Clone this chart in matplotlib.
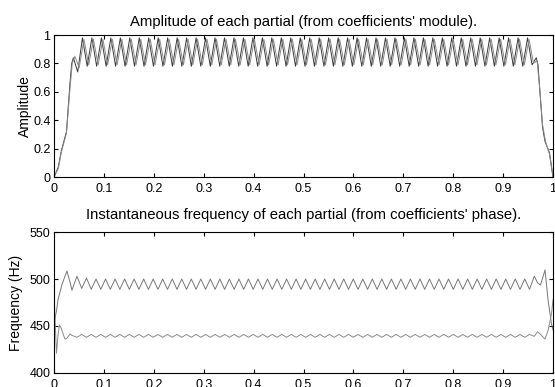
import numpy as np
import matplotlib
matplotlib.use("Agg")
import matplotlib.pyplot as plt

plt.rcParams['font.family'] = ['Liberation Sans', 'DejaVu Sans']

# ---- amplitude panel ----
# onset of both partials (time, value)
amp1_on_t = [0.0, 0.0086, 0.015, 0.022, 0.025, 0.032, 0.0355, 0.0388, 0.0475]
amp1_on = [0.0, 0.07, 0.19, 0.28, 0.32, 0.66, 0.80, 0.84, 0.74]
amp2_on_t = [0.0, 0.0086, 0.015, 0.022, 0.025, 0.032, 0.0365, 0.0418, 0.0505]
amp2_on = [0.0, 0.06, 0.18, 0.27, 0.31, 0.62, 0.80, 0.85, 0.77]

# steady part, one value per half period of the ripple (peak / trough)
amp1_mid_t = np.linspace(0.057, 0.949, 95)
amp2_mid_t = np.linspace(0.060, 0.952, 95)
amp1_mid = [0.98, 0.78, 0.98, 0.78, 0.98, 0.78, 0.98, 0.78, 0.98, 0.78,
            0.98, 0.78, 0.98, 0.78, 0.98, 0.78, 0.98, 0.78, 0.98, 0.78,
            0.98, 0.78, 0.98, 0.78, 0.98, 0.78, 0.98, 0.78, 0.98, 0.78,
            0.98, 0.78, 0.98, 0.78, 0.98, 0.78, 0.98, 0.78, 0.98, 0.78,
            0.98, 0.78, 0.98, 0.78, 0.98, 0.78, 0.98, 0.78, 0.98, 0.78,
            0.98, 0.78, 0.98, 0.78, 0.98, 0.78, 0.98, 0.78, 0.98, 0.78,
            0.98, 0.78, 0.98, 0.78, 0.98, 0.78, 0.98, 0.78, 0.98, 0.78,
            0.98, 0.78, 0.98, 0.78, 0.98, 0.78, 0.98, 0.78, 0.98, 0.78,
            0.98, 0.78, 0.98, 0.78, 0.98, 0.78, 0.98, 0.78, 0.98, 0.78,
            0.98, 0.78, 0.98, 0.78, 0.98]
amp2_mid = [0.97, 0.79, 0.97, 0.79, 0.97, 0.79, 0.97, 0.79, 0.97, 0.79,
            0.97, 0.79, 0.97, 0.79, 0.97, 0.79, 0.97, 0.79, 0.97, 0.79,
            0.97, 0.79, 0.97, 0.79, 0.97, 0.79, 0.97, 0.79, 0.97, 0.79,
            0.97, 0.79, 0.97, 0.79, 0.97, 0.79, 0.97, 0.79, 0.97, 0.79,
            0.97, 0.79, 0.97, 0.79, 0.97, 0.79, 0.97, 0.79, 0.97, 0.79,
            0.97, 0.79, 0.97, 0.79, 0.97, 0.79, 0.97, 0.79, 0.97, 0.79,
            0.97, 0.79, 0.97, 0.79, 0.97, 0.79, 0.97, 0.79, 0.97, 0.79,
            0.97, 0.79, 0.97, 0.79, 0.97, 0.79, 0.97, 0.79, 0.97, 0.79,
            0.97, 0.79, 0.97, 0.79, 0.97, 0.79, 0.97, 0.79, 0.97, 0.79,
            0.97, 0.79, 0.97, 0.79, 0.97]

# release
amp1_off_t = [0.958, 0.9665, 0.970, 0.973, 0.979, 0.984, 0.993, 1.0]
amp1_off = [0.79, 0.84, 0.79, 0.64, 0.35, 0.25, 0.17, 0.0]
amp2_off_t = [0.961, 0.968, 0.9735, 0.979, 0.985, 0.993, 1.0]
amp2_off = [0.80, 0.82, 0.62, 0.37, 0.25, 0.16, 0.0]

# ---- frequency panel ----
frq_on_t = [0.0, 0.005, 0.008, 0.011, 0.015, 0.016, 0.022, 0.026, 0.032, 0.036]
frq1_on = [453, 466, 478, 484, 492, 494, 503, 508.5, 497, 488]
frq2_on = [485, 421, 440, 451, 447, 445, 436, 437, 441.5, 440]

frq_mid_t = np.linspace(0.046, 0.9625, 97)
frq1_mid = [503, 490, 501, 489, 500, 489, 500, 489, 500, 489,
            500, 489, 500, 489, 500, 489, 500, 489, 500, 489,
            500, 489, 500, 489, 500, 489, 500, 489, 500, 489,
            500, 489, 500, 489, 500, 489, 500, 489, 500, 489,
            500, 489, 500, 489, 500, 489, 500, 489, 500, 489,
            500, 489, 500, 489, 500, 489, 500, 489, 500, 489,
            500, 489, 500, 489, 500, 489, 500, 489, 500, 489,
            500, 489, 500, 489, 500, 489, 500, 489, 500, 489,
            500, 489, 500, 489, 500, 489, 500, 489, 500, 489,
            500, 489, 500, 489, 500, 489, 503]
frq2_mid = [438, 441, 438, 441, 438, 441, 438, 441, 438, 441,
            438, 441, 438, 441, 438, 441, 438, 441, 438, 441,
            438, 441, 438, 441, 438, 441, 438, 441, 438, 441,
            438, 441, 438, 441, 438, 441, 438, 441, 438, 441,
            438, 441, 438, 441, 438, 441, 438, 441, 438, 441,
            438, 441, 438, 441, 438, 441, 438, 441, 438, 441,
            438, 441, 438, 441, 438, 441, 438, 441, 438, 441,
            438, 441, 438, 441, 438, 441, 438, 441, 438, 441,
            438, 441, 438, 441, 438, 441, 438, 441, 438, 441,
            438, 441, 438, 441, 438, 441, 439]

frq_off_t = [0.969, 0.975, 0.984, 0.990, 0.997, 1.0]
frq1_off = [496, 493.6, 509.6, 478, 452, 446]
frq2_off = [444, 441, 436, 445, 463, 478]

xticks = [0, 0.1, 0.2, 0.3, 0.4, 0.5, 0.6, 0.7, 0.8, 0.9, 1]
xticklabels = ['0', '0.1', '0.2', '0.3', '0.4', '0.5', '0.6', '0.7', '0.8', '0.9', '1']
amp_yticks = [0, 0.2, 0.4, 0.6, 0.8, 1]
amp_yticklabels = ['0', '0.2', '0.4', '0.6', '0.8', '1']
frq_yticks = [400, 450, 500, 550]


def join(*parts):
    return np.concatenate([np.asarray(p, float) for p in parts])


fig = plt.figure(figsize=(5.55, 3.87), dpi=100)
ax1 = fig.add_axes([0.0973, 0.5426, 0.8991, 0.3669])
ax2 = fig.add_axes([0.0973, 0.0362, 0.8991, 0.3643])

dark = '#3a3a3a'
light = '#8a8a8a'

ax1.plot(join(amp1_on_t, amp1_mid_t, amp1_off_t), join(amp1_on, amp1_mid, amp1_off),
         color=dark, lw=0.7)
ax1.plot(join(amp2_on_t, amp2_mid_t, amp2_off_t), join(amp2_on, amp2_mid, amp2_off),
         color=light, lw=0.7)

t_frq = join(frq_on_t, frq_mid_t, frq_off_t)
ax2.plot(t_frq, join(frq1_on, frq1_mid, frq1_off), color='#777777', lw=0.7)
ax2.plot(t_frq, join(frq2_on, frq2_mid, frq2_off), color='#8a8a8a', lw=0.7)

ax1.set_xlim(0, 1)
ax1.set_ylim(0, 1)
ax1.set_xticks(xticks)
ax1.set_xticklabels(xticklabels)
ax1.set_yticks(amp_yticks)
ax1.set_yticklabels(amp_yticklabels)
ax1.set_ylabel('Amplitude', fontsize=10)
ax1.yaxis.set_label_coords(-0.045, 0.5)
ax1.set_title("Amplitude of each partial (from coefficients' module).", fontsize=10.7, pad=6.5)

ax2.set_xlim(0, 1)
ax2.set_ylim(400, 550)
ax2.set_xticks(xticks)
ax2.set_xticklabels(xticklabels)
ax2.set_yticks(frq_yticks)
ax2.set_ylabel('Frequency (Hz)', fontsize=10)
ax2.yaxis.set_label_coords(-0.063, 0.5)
ax2.set_title("Instantaneous frequency of each partial (from coefficients' phase).",
              fontsize=10.7, pad=9.7)

for ax in (ax1, ax2):
    ax.tick_params(direction='in', length=3, width=0.8, top=True, right=True,
                   labelsize=9, color='black')
    ax.tick_params(axis='x', pad=4)
    ax.tick_params(axis='y', pad=2.5)
    for s in ax.spines.values():
        s.set_linewidth(0.8)

fig.savefig('out.png', dpi=100)
